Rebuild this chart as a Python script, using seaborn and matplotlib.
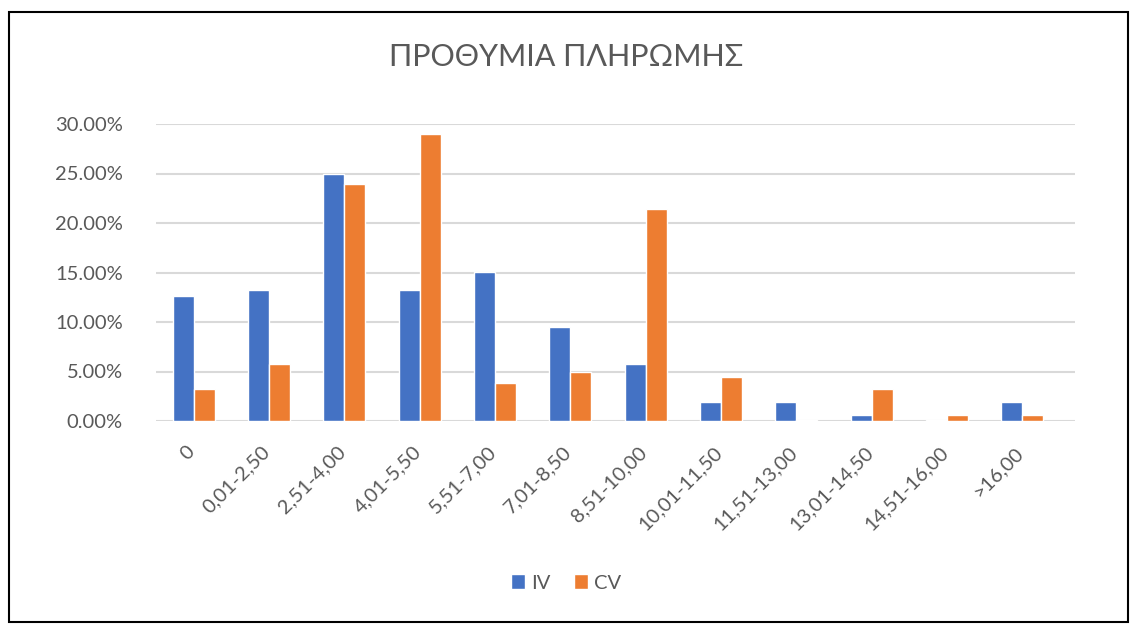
import pandas as pd
import seaborn as sns
import numpy as np
import matplotlib.pyplot as plt
from matplotlib.patches import Rectangle
from matplotlib.ticker import FuncFormatter

categories = ['0', '0,01-2,50', '2,51-4,00', '4,01-5,50', '5,51-7,00', '7,01-8,50',
              '8,51-10,00', '10,01-11,50', '11,51-13,00', '13,01-14,50', '14,51-16,00', '>16,00']
iv_values = [12.6, 13.2, 25.0, 13.2, 15.1, 9.5, 5.8, 1.9, 1.9, 0.6, 0.1, 1.9]
cv_values = [3.2, 5.8, 23.9, 29.0, 3.8, 5.0, 21.4, 4.4, 0.1, 3.2, 0.6, 0.6]
series = ['IV', 'CV']
colors = ['#4472C4', '#ED7D31']
yticks = [0, 5, 10, 15, 20, 25, 30]

df = pd.DataFrame({
    'cat': categories * 2,
    'value': iv_values + cv_values,
    'series': ['IV'] * len(categories) + ['CV'] * len(categories),
})

sns.set_theme(style='white')
plt.rcParams['font.family'] = ['Lato', 'DejaVu Sans']

fig = plt.figure(figsize=(11.32, 6.24), dpi=100)
ax = fig.add_axes([156 / 1132, 1 - 421 / 624, (1075 - 156) / 1132, (421 - 124) / 624])

sns.barplot(data=df, x='cat', y='value', hue='series', hue_order=series,
            palette=colors, width=0.56, ax=ax, saturation=1, legend=True)

ax.set_xlim(-0.5, 11.7)
ax.set_ylim(0, 30)
ax.set_yticks(yticks)
ax.yaxis.set_major_formatter(FuncFormatter(lambda v, p: f'{v:.2f}%'))
ax.grid(axis='y', color='#D9D9D9', linewidth=1.5)
ax.set_axisbelow(True)
for s in ax.spines.values():
    s.set_visible(False)
ax.set_xlabel('')
ax.set_ylabel('')
ax.tick_params(axis='y', length=0, pad=24, labelsize=14.5, labelcolor='#595959')
ax.tick_params(axis='x', length=0, pad=16, labelsize=14.5, labelcolor='#595959')
# labels sit a little left of the group centre, like the excel chart
ax.set_xticks(np.arange(len(categories)) - 0.1, categories)
plt.setp(ax.get_xticklabels(), rotation=45, ha='right', rotation_mode='anchor')

ax.legend(loc='center', bbox_to_anchor=(0.5, 1 - 583 / 624), bbox_transform=fig.transFigure,
          ncol=2, frameon=False, handlelength=0.7, handleheight=0.7, handletextpad=0.3,
          columnspacing=1.2, fontsize=14.5, labelcolor='#595959')

fig.text(0.5, 1 - 57 / 624, 'ΠΡΟΘΥΜΙΑ ΠΛΗΡΩΜΗΣ', ha='center', va='center',
         fontsize=22, color='#595959')

fig.patches.append(Rectangle((9 / 1132, 2 / 624), (1128 - 9) / 1132, (622 - 12) / 624,
                             transform=fig.transFigure, fill=False, edgecolor='black', linewidth=1.5))

fig.savefig('out.png', dpi=100)
